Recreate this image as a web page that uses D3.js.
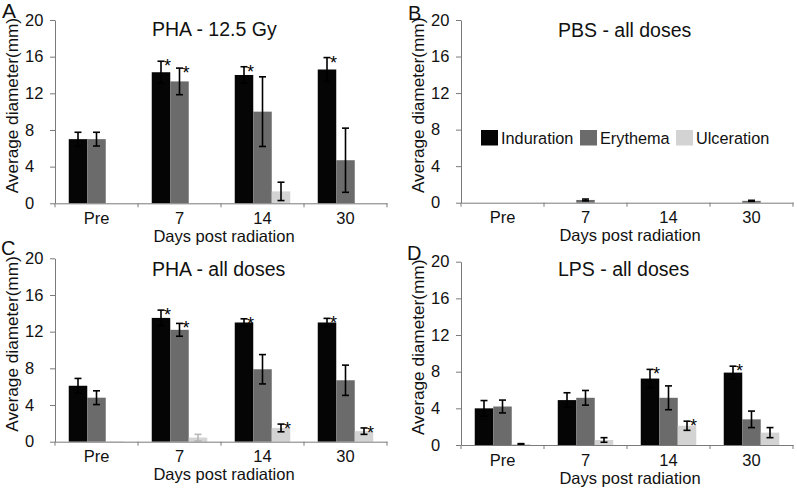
<!DOCTYPE html>
<html>
<head>
<meta charset="utf-8">
<script src="https://cdn.jsdelivr.net/npm/d3@7"></script>
<style>
  html, body { margin: 0; padding: 0; background: #fff; }
  svg { display: block; font-family: "Liberation Sans", Arial, Helvetica, sans-serif; }
</style>
</head>
<body>
<svg id="chart" width="797" height="492"></svg>
<script>
// ---------- shared data ----------
const categories = ["Pre", "7", "14", "30"];
const seriesNames = ["Induration", "Erythema", "Ulceration"];
const seriesColors = ["#050505", "#6b6b6b", "#d3d3d3"];
const yTicks = [0, 4, 8, 12, 16, 20];
const xTitle = "Days post radiation";
const yTitle = "Average diameter(mm)";

// ---------- panel A ----------
const aTitle = "PHA - 12.5 Gy";
const aInduration = [7.0, 14.3, 14.0, 14.6];
const aErythema   = [7.0, 13.3, 10.0, 4.7];
const aUlceration = [0, 0, 1.3, 0];
const aIndErr = [0.75, 1.2, 0.9, 1.3];
const aEryErr = [0.75, 1.45, 3.8, 3.5];
const aUlcErr = [0, 0, 1.0, 0];
const aStars = [[0, 1], [1, 1], [0, 2], [0, 3]]; // [series, category]

// ---------- panel B ----------
const bTitle = "PBS - all doses";
const bInduration = [0, 0, 0, 0];
const bErythema   = [0, 0.3, 0, 0.2];
const bUlceration = [0, 0, 0, 0];
const bIndErr = [0, 0, 0, 0];
const bEryErr = [0, 0.1, 0, 0.06];
const bUlcErr = [0, 0, 0, 0];
const bStars = [];

// ---------- panel C ----------
const cTitle = "PHA - all doses";
const cInduration = [6.1, 13.5, 13.0, 13.0];
const cErythema   = [4.8, 12.2, 7.9, 6.7];
const cUlceration = [0.05, 0.45, 1.5, 1.15];
const cIndErr = [0.8, 0.85, 0.4, 0.45];
const cEryErr = [0.75, 0.7, 1.6, 1.65];
const cUlcErr = [0, 0.35, 0.42, 0.35];
const cStars = [[0, 1], [1, 1], [0, 2], [2, 2], [0, 3], [2, 3]];
const cFaintErr = [[2, 1]];

// ---------- panel D ----------
const dTitle = "LPS - all doses";
const dInduration = [4.0, 4.9, 7.25, 7.9];
const dErythema   = [4.2, 5.15, 5.15, 2.8];
const dUlceration = [0.1, 0.55, 2.1, 1.35];
const dIndErr = [0.85, 0.8, 1.0, 0.7];
const dEryErr = [0.7, 0.8, 1.3, 0.9];
const dUlcErr = [0.05, 0.25, 0.5, 0.55];
const dStars = [[0, 2], [2, 2], [0, 3]];

// ---------- layout ----------
const panels = [
  { label: "A", labelX: 2,   labelY: 18,  labelSize: 21, title: aTitle, titleY: 36,
    ax: 55,  top: 20,    zero: 203.3, vals: [aInduration, aErythema, aUlceration],
    errs: [aIndErr, aEryErr, aUlcErr], stars: aStars, faint: [], legend: false },
  { label: "B", labelX: 408, labelY: 20,  labelSize: 20, title: bTitle, titleY: 36.7,
    ax: 461, top: 20,    zero: 202.7, vals: [bInduration, bErythema, bUlceration],
    errs: [bIndErr, bEryErr, bUlcErr], stars: bStars, faint: [], legend: true },
  { label: "C", labelX: 1,   labelY: 255, labelSize: 20, title: cTitle, titleY: 275.7,
    ax: 55,  top: 258.3, zero: 441.7, vals: [cInduration, cErythema, cUlceration],
    errs: [cIndErr, cEryErr, cUlcErr], stars: cStars, faint: cFaintErr, legend: false },
  { label: "D", labelX: 407, labelY: 260, labelSize: 20, title: dTitle, titleY: 275.7,
    ax: 461, top: 261.7, zero: 445,   vals: [dInduration, dErythema, dUlceration],
    errs: [dIndErr, dEryErr, dUlcErr], stars: dStars, faint: [], legend: false }
];

const svg = d3.select("#chart");
const axisColor = "#7a7a7a";
const plotW = 332;

panels.forEach(p => {
  const g = svg.append("g");
  const y = d3.scaleLinear().domain([0, 20]).range([p.zero, p.top]);
  const x0 = d3.scaleBand().domain(categories).range([p.ax, p.ax + plotW]).paddingInner(0).paddingOuter(0);
  const x1 = d3.scaleBand().domain(seriesNames).range([0, x0.bandwidth()]).paddingInner(0).paddingOuter(0.743);

  // bars
  p.vals.forEach((arr, si) => {
    g.append("g").selectAll("rect").data(arr.map((v, ci) => ({ v, ci })))
      .join("rect")
      .attr("x", d => x0(categories[d.ci]) + x1(seriesNames[si]))
      .attr("width", x1.bandwidth())
      .attr("y", d => y(d.v))
      .attr("height", d => Math.max(0, y(0) - y(d.v)))
      .attr("fill", seriesColors[si]);
  });

  // error bars
  const capHalf = 3.5;
  p.vals.forEach((arr, si) => {
    arr.forEach((v, ci) => {
      const e = p.errs[si][ci];
      if (!e) return;
      const cx = x0(categories[ci]) + x1(seriesNames[si]) + x1.bandwidth() / 2;
      const faint = p.faint.some(f => f[0] === si && f[1] === ci);
      const col = faint ? "#b8b8b8" : "#000";
      const yt = y(v + e), yb = y(Math.max(0, v - e));
      const eg = g.append("g").attr("stroke", col).attr("stroke-width", 1.6);
      eg.append("line").attr("x1", cx).attr("x2", cx).attr("y1", yt).attr("y2", yb);
      eg.append("line").attr("x1", cx - capHalf).attr("x2", cx + capHalf).attr("y1", yt).attr("y2", yt);
      eg.append("line").attr("x1", cx - capHalf).attr("x2", cx + capHalf).attr("y1", yb).attr("y2", yb);
    });
  });

  // significance stars
  p.stars.forEach(([si, ci]) => {
    const v = p.vals[si][ci] + p.errs[si][ci];
    const cx = x0(categories[ci]) + x1(seriesNames[si]) + x1.bandwidth() / 2;
    g.append("text").attr("x", cx + 3).attr("y", y(v) + 11)
      .attr("font-size", 18).attr("fill", "#000").text("*");
  });

  // y axis
  const yAxis = g.append("g").attr("transform", `translate(${p.ax},0)`)
    .call(d3.axisLeft(y).tickValues(yTicks).tickSize(5).tickSizeOuter(0));
  yAxis.select(".domain").attr("stroke", axisColor);
  yAxis.selectAll(".tick line").attr("stroke", axisColor);
  yAxis.selectAll(".tick text").attr("x", -30).attr("text-anchor", "start")
    .attr("font-size", 16.5).attr("fill", "#111").attr("font-family", null);

  // x axis (labels at band centers, ticks at band boundaries)
  const xAxis = g.append("g").attr("transform", `translate(0,${p.zero})`)
    .call(d3.axisBottom(x0).tickSize(0).tickPadding(0).tickSizeOuter(0));
  xAxis.select(".domain").attr("stroke", axisColor);
  xAxis.selectAll(".tick text").attr("dy", null).attr("y", 20.5)
    .attr("font-size", 16.5).attr("fill", "#111").attr("font-family", null);
  const bounds = categories.map(c => x0(c)).concat([p.ax + plotW]);
  xAxis.append("g").selectAll("line").data(bounds).join("line")
    .attr("x1", d => d).attr("x2", d => d).attr("y1", 0).attr("y2", 4)
    .attr("stroke", axisColor);

  // axis titles
  g.append("text").attr("x", p.ax + plotW / 2 + 3).attr("y", p.zero + 38.5)
    .attr("text-anchor", "middle").attr("font-size", 16.5).attr("fill", "#111").text(xTitle);
  const yc = (p.top + p.zero) / 2 - 6;
  g.append("text").attr("transform", `translate(${p.ax - 37},${yc}) rotate(-90)`)
    .attr("text-anchor", "middle").attr("font-size", 17.2).attr("fill", "#111").text(yTitle);

  // panel title
  g.append("text").attr("x", p.ax + 97).attr("y", p.titleY)
    .attr("font-size", 19.5).attr("fill", "#111").text(p.title);

  // panel letter
  g.append("text").attr("x", p.labelX).attr("y", p.labelY)
    .attr("font-size", p.labelSize).attr("fill", "#111").text(p.label);

  // legend
  if (p.legend) {
    const lx = [20, 119, 215];
    const lg = g.append("g");
    seriesNames.forEach((s, i) => {
      lg.append("rect").attr("x", p.ax + lx[i]).attr("y", 130).attr("width", 17).attr("height", 15.5)
        .attr("fill", seriesColors[i]);
      lg.append("text").attr("x", p.ax + lx[i] + 20).attr("y", 143.5)
        .attr("font-size", 16.3).attr("fill", "#111").text(s);
    });
  }
});
</script>
</body>
</html>
